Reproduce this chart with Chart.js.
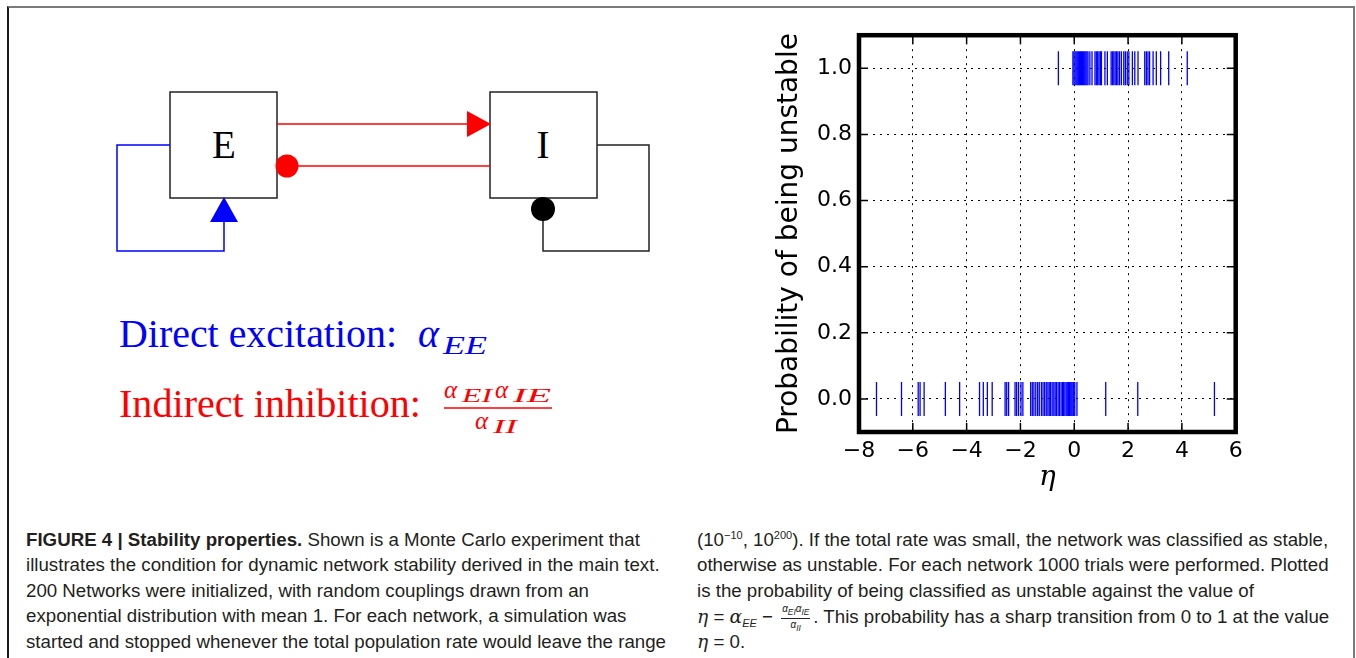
<!DOCTYPE html>
<html>
<head>
<meta charset="utf-8">
<script src="https://cdn.jsdelivr.net/npm/chart.js@4.4.0/dist/chart.umd.min.js"></script>
<style>
  body { margin: 0; width: 1356px; height: 658px; background: #fff; position: relative; overflow: hidden; }
  #frame { position: absolute; left: 7px; top: 6px; width: 1344px; height: 700px;
           border-top: 2px solid #7a7a7a; border-left: 2px solid #1a1a1a; border-right: 2px solid #7a7a7a; }
  #diagram { position: absolute; left: 0; top: 0; }
  #chartBox { position: absolute; left: 769px; top: 15px; width: 485px; height: 484px; }
  .col { position: absolute; top: 527px; font-family: "Liberation Sans", Arial, sans-serif; font-size: 18.7px; color: #231f20; }
  .col div { height: 25.4px; line-height: 25.4px; white-space: nowrap; }
  .m { font-family: "DejaVu Serif", serif; font-style: italic; }
  .sub { font-size: 11px; position: relative; top: 3px; font-style: italic; }
  .sup { font-size: 11px; position: relative; top: -7px; }
  .frac { display: inline-block; vertical-align: middle; text-align: center; font-size: 10px; line-height: 11px; margin: 0 3px; }
  .frac .num { display: block; border-bottom: 1px solid #231f20; padding: 0 1px; }
  .frac .den { display: block; }
</style>
</head>
<body>
<div id="frame"></div>

<svg id="diagram" width="700" height="480" xmlns="http://www.w3.org/2000/svg">
  <g fill="none" stroke-width="1.5">
    <rect x="170" y="92" width="107" height="106" stroke="#222"/>
    <rect x="490" y="92" width="107" height="106" stroke="#222"/>
    <polyline points="170,145 117,145 117,251 224,251 224,222" stroke="#0000ff"/>
    <polyline points="597,145 649,145 649,251 543,251 543,220" stroke="#222"/>
    <line x1="277" y1="124" x2="470" y2="124" stroke="#ff0000"/>
    <line x1="287" y1="166" x2="490" y2="166" stroke="#ff0000"/>
  </g>
  <polygon points="467,111 491,124 467,137" fill="#ff0000"/>
  <polygon points="210,222 224,197 238,222" fill="#0000ff"/>
  <circle cx="287" cy="166" r="11.5" fill="#ff0000"/>
  <circle cx="543" cy="209" r="12" fill="#000"/>
  <g font-family="Liberation Serif, serif">
    <text x="224" y="158" font-size="39" text-anchor="middle" fill="#000">E</text>
    <text x="543" y="158" font-size="39" text-anchor="middle" fill="#000">I</text>

    <text x="119" y="347" font-size="40" fill="#0000ff" textLength="278" lengthAdjust="spacingAndGlyphs">Direct excitation:</text>
    <text x="418" y="347" font-size="40" font-style="italic" fill="#0000ff">α</text>
    <text x="443" y="354" font-size="26" font-style="italic" fill="#0000ff" textLength="44" lengthAdjust="spacingAndGlyphs">EE</text>

    <text x="119" y="417" font-size="40" fill="#ff0000" textLength="302" lengthAdjust="spacingAndGlyphs">Indirect inhibition:</text>
    <g font-style="italic" fill="#ff0000">
      <text x="444" y="398" font-size="25">α</text>
      <text x="462" y="402" font-size="18" textLength="30" lengthAdjust="spacingAndGlyphs">EI</text>
      <text x="495" y="398" font-size="25">α</text>
      <text x="513" y="402" font-size="18" textLength="38" lengthAdjust="spacingAndGlyphs">IE</text>
      <text x="475" y="429" font-size="25">α</text>
      <text x="493" y="433" font-size="18" textLength="24" lengthAdjust="spacingAndGlyphs">II</text>
    </g>
    <line x1="444" y1="408" x2="552" y2="408" stroke="#ff0000" stroke-width="1.3"/>
  </g>
</svg>

<div id="chartBox"><canvas id="stab"></canvas></div>

<div class="col" style="left:26px">
  <div><b>FIGURE 4 | Stability properties.</b> Shown is a Monte Carlo experiment that</div>
  <div>illustrates the condition for dynamic network stability derived in the main text.</div>
  <div>200 Networks were initialized, with random couplings drawn from an</div>
  <div>exponential distribution with mean 1. For each network, a simulation was</div>
  <div>started and stopped whenever the total population rate would leave the range</div>
</div>
<div class="col" style="left:697px">
  <div>(10<span class="sup">−10</span>, 10<span class="sup">200</span>). If the total rate was small, the network was classified as stable,</div>
  <div>otherwise as unstable. For each network 1000 trials were performed. Plotted</div>
  <div>is the probability of being classified as unstable against the value of</div>
  <div><span class="m">η</span> = <span class="m">α</span><span class="sub">EE</span> − <span class="frac"><span class="num"><i>α<sub>EI</sub>α<sub>IE</sub></i></span><span class="den"><i>α<sub>II</sub></i></span></span>. This probability has a sharp transition from 0 to 1 at the value</div>
  <div><span class="m">η</span> = 0.</div>
</div>

<script>
// eta values
var stableEta = [-7.35, -6.42, -5.80, -5.73, -5.58, -4.79, -4.26, -3.52, -3.38, -3.23, -3.05,
  -2.57, -2.51, -2.44, -2.20, -2.14, -2.07, -1.98, -1.91,
  -1.62, -1.56, -1.50, -1.43, -1.36, -1.30, -1.22, -1.16, -1.10, -1.04, -0.98, -0.93, -0.88,
  -0.82, -0.76, -0.71, -0.66, -0.60, -0.55, -0.49, -0.44, -0.40, -0.35, -0.30, -0.26, -0.21,
  -0.17, -0.13, -0.09, -0.05, -0.02, 0.02, 0.10,
  1.17, 2.36, 5.21];
var unstableEta = [-0.59,
  -0.05, -0.01, 0.03, 0.07, 0.11, 0.15, 0.19, 0.23, 0.27, 0.31, 0.35, 0.39, 0.43, 0.47, 0.51,
  0.58, 0.66, 0.77, 0.82, 0.87, 0.92, 0.97, 1.01, 1.14, 1.23,
  1.37, 1.42, 1.47, 1.52, 1.57, 1.62, 1.68, 1.75, 1.84, 1.90, 1.97, 2.03, 2.16, 2.25, 2.37,
  2.62, 2.68, 2.74, 2.80, 2.93, 3.05, 3.21, 3.51, 4.20];
var xTicks = [-8, -6, -4, -2, 0, 2, 4, 6];
var yTicks = [0, 0.2, 0.4, 0.6, 0.8, 1.0];

// thick box + inward ticks like the matplotlib original
var framePlugin = {
  id: "frame",
  afterDatasetsDraw: function (chart) {
    var ctx = chart.ctx;
    var a = chart.chartArea;
    var xs = chart.scales.x;
    var ys = chart.scales.y;
    ctx.save();
    ctx.strokeStyle = "#000";
    ctx.lineWidth = 1.5;
    ctx.beginPath();
    xTicks.forEach(function (v) {
      var px = xs.getPixelForValue(v);
      ctx.moveTo(px, a.bottom);
      ctx.lineTo(px, a.bottom - 9);
      ctx.moveTo(px, a.top);
      ctx.lineTo(px, a.top + 9);
    });
    yTicks.forEach(function (v) {
      var py = ys.getPixelForValue(v);
      ctx.moveTo(a.left, py);
      ctx.lineTo(a.left + 9, py);
      ctx.moveTo(a.right, py);
      ctx.lineTo(a.right - 9, py);
    });
    ctx.stroke();
    ctx.lineWidth = 4.5;
    ctx.strokeRect(a.left, a.top, a.right - a.left, a.bottom - a.top);
    ctx.restore();
  }
};

var rug = {
  showLine: false,
  pointStyle: "line",
  pointRotation: 90,
  pointRadius: 17,
  pointHoverRadius: 17,
  pointBorderColor: "#0000ff",
  pointBackgroundColor: "#0000ff",
  pointBorderWidth: 1.3
};

var ctx = document.getElementById("stab").getContext("2d");
new Chart(ctx, {
  type: "scatter",
  data: {
    datasets: [
      Object.assign({ label: "stable", data: stableEta.map(function (v) { return { x: v, y: 0 }; }) }, rug),
      Object.assign({ label: "unstable", data: unstableEta.map(function (v) { return { x: v, y: 1 }; }) }, rug)
    ]
  },
  options: {
    responsive: true,
    maintainAspectRatio: false,
    devicePixelRatio: 1,
    animation: false,
    layout: { padding: { top: 20, right: 16, bottom: 0, left: 0 } },
    plugins: { legend: { display: false }, tooltip: { enabled: false } },
    scales: {
      x: {
        type: "linear",
        min: -8,
        max: 6,
        afterBuildTicks: function (scale) {
          scale.ticks = xTicks.map(function (v) { return { value: v }; });
        },
        afterFit: function (scale) { scale.height = 67; },
        ticks: {
          color: "#000",
          padding: 6,
          maxRotation: 0,
          font: { family: "DejaVu Sans", size: 22 },
          callback: function (v) { return v < 0 ? "\u2212" + Math.abs(v) : String(v); }
        },
        grid: { color: "#000", lineWidth: 1, drawTicks: false },
        border: { display: false, dash: [2, 5] },
        title: { display: true, text: "η", color: "#000", font: { family: "DejaVu Serif", style: "italic", size: 28 } }
      },
      y: {
        type: "linear",
        min: -0.1,
        max: 1.1,
        afterBuildTicks: function (scale) {
          scale.ticks = yTicks.map(function (v) { return { value: v }; });
        },
        afterFit: function (scale) { scale.width = 90; },
        ticks: {
          color: "#000",
          padding: 7,
          font: { family: "DejaVu Sans", size: 22 },
          callback: function (v) { return v.toFixed(1); }
        },
        grid: { color: "#000", lineWidth: 1, drawTicks: false },
        border: { display: false, dash: [2, 5] },
        title: { display: true, text: "Probability of being unstable", color: "#000", font: { family: "DejaVu Sans", size: 28 } }
      }
    }
  },
  plugins: [framePlugin]
});
</script>
</body>
</html>
